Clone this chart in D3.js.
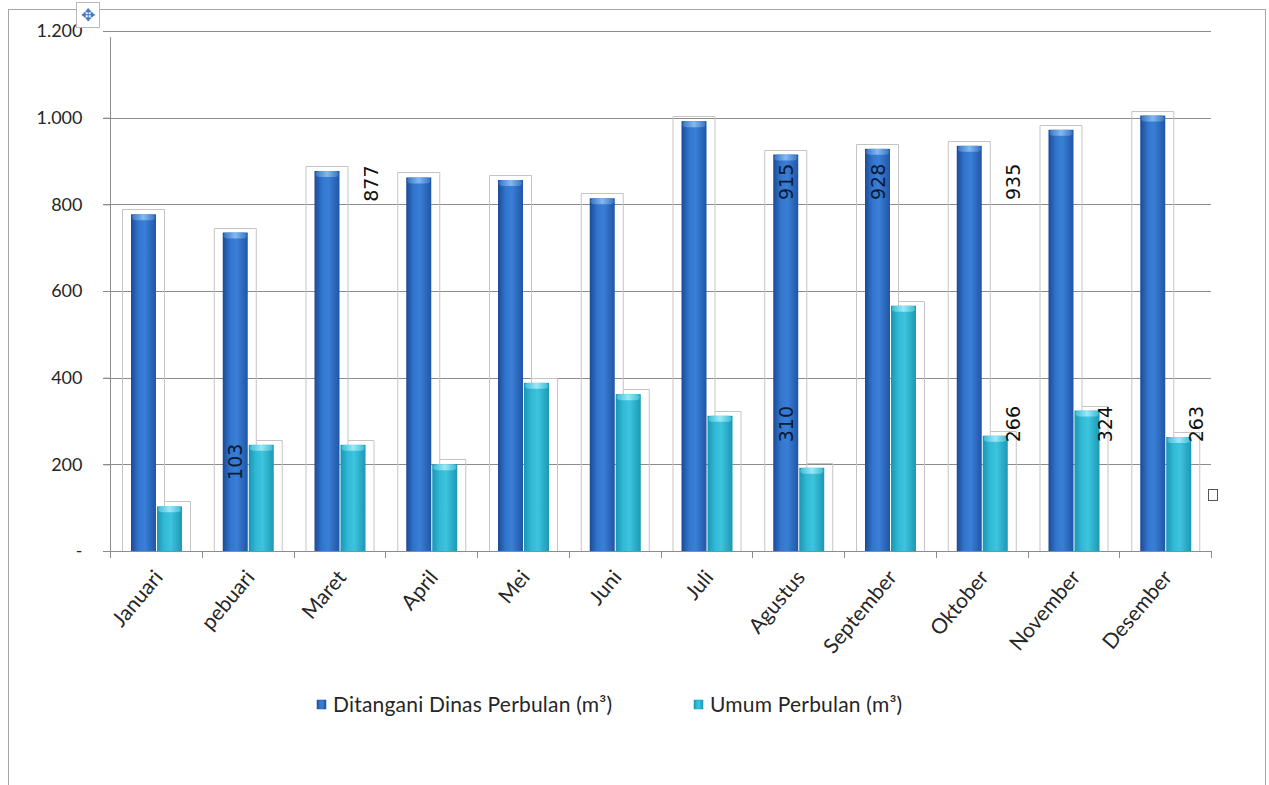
<!DOCTYPE html>
<html>
<head>
<meta charset="utf-8">
<script src="https://cdn.jsdelivr.net/npm/d3@7"></script>
<style>
  html, body { margin: 0; padding: 0; background: #fff; }
  svg { display: block; }
</style>
</head>
<body>
<svg id="chart" width="1269" height="785"></svg>
<script>
// ---------------- data ----------------
const months = ["Januari","pebuari","Maret","April","Mei","Juni","Juli","Agustus","September","Oktober","November","Desember"];
const seriesNames = ["Ditangani Dinas Perbulan (m³)", "Umum Perbulan (m³)"];
const dinasValues = [777, 735, 877, 862, 856, 814, 992, 915, 928, 935, 972, 1005];
const umumValues  = [103, 245, 245, 200, 388, 362, 312, 192, 566, 266, 324, 263];
const yTickValues = [0, 200, 400, 600, 800, 1000, 1200];
const yTickLabels = ["-", "200", "400", "600", "800", "1.000", "1.200"];
// data labels as they appear (misplaced) in the original
const labelTexts  = ["877", "103", "915", "928", "935", "310", "266", "324", "263"];
const labelMonths = ["Maret", "pebuari", "Agustus", "September", "Oktober", "Agustus", "Oktober", "November", "Desember"];
const labelSlots  = ["after", "dark", "dark", "dark", "after", "dark", "after", "after", "after"];
const labelLevels = [806, 164, 810, 810, 810, 251, 251, 251, 251];

// ---------------- layout ----------------
const svg = d3.select("#chart");
const plot = { left: 110, right: 1211, top: 31, bottom: 551 };
const FONT = "Lato, 'Open Sans', sans-serif";

const x = d3.scaleBand().domain(months).range([plot.left, plot.right]).padding(0);
const x1 = d3.scaleBand().domain(["dark", "light"]).range([21, 73]).padding(0);
const y = d3.scaleLinear().domain([0, 1200]).range([plot.bottom, plot.top]);
const bw = x1.bandwidth() - 1;

// gradients
const defs = svg.append("defs");
function hGrad(id, stops) {
  const g = defs.append("linearGradient").attr("id", id).attr("x1", "0%").attr("x2", "100%").attr("y1", "0%").attr("y2", "0%");
  stops.forEach(s => g.append("stop").attr("offset", s[0]).attr("stop-color", s[1]));
}
hGrad("gDark", [[0, "#1b4a96"], [0.3, "#3175cd"], [0.55, "#3a7fd7"], [1, "#2056a6"]]);
hGrad("gLight", [[0, "#1896b2"], [0.3, "#31bad6"], [0.55, "#3dc4de"], [1, "#1b98b4"]]);
hGrad("gDarkCap", [[0, "#3b78c8"], [0.5, "#8cc0f2"], [1, "#3b78c8"]]);
hGrad("gLightCap", [[0, "#40c0da"], [0.5, "#a5ecf8"], [1, "#40c0da"]]);

// outer frame
svg.append("rect").attr("x", 8.5).attr("y", 9.5).attr("width", 1257).attr("height", 800)
  .attr("fill", "none").attr("stroke", "#a6a6a6").attr("stroke-width", 1);

// gridlines
svg.append("g").selectAll("line").data(yTickValues.filter(v => v > 0)).join("line")
  .attr("x1", plot.left - 7).attr("x2", plot.right)
  .attr("y1", d => Math.round(y(d)) + 0.5).attr("y2", d => Math.round(y(d)) + 0.5)
  .attr("stroke", "#8c8c8c").attr("stroke-width", 1);

// y axis
const yAxis = d3.axisLeft(y).tickValues(yTickValues).tickSize(7)
  .tickFormat((d, i) => yTickLabels[i]);
const gy = svg.append("g").attr("transform", `translate(${plot.left + 0.5},0)`).call(yAxis);
gy.select(".domain").attr("stroke", "#8c8c8c").attr("d", `M0,${y(1200) + 6}V${plot.bottom}`);
gy.selectAll(".tick line").attr("stroke", "#8c8c8c");
gy.selectAll(".tick text").attr("x", -28).attr("fill", "#262626")
  .style("font-family", FONT).style("font-size", "18px");

// ghost outlines (faint rectangles around the bars in the original)
const ghosts = svg.append("g").attr("fill", "none").attr("stroke", "#c4c4c4").attr("stroke-width", 1);
months.forEach((m, i) => {
  const dx = x(m) + x1("dark");
  const lx = x(m) + x1("light");
  ghosts.append("path")
    .attr("d", `M${dx - 8.5},${plot.bottom}V${Math.round(y(dinasValues[i])) - 4.5}H${dx + bw + 8.5}V${plot.bottom}`);
  ghosts.append("path")
    .attr("d", `M${dx + bw + 8.5},${Math.round(y(umumValues[i])) - 4.5}H${lx + bw + 8.5}V${plot.bottom}`);
});

// bars
const barData = months.map((m, i) => [
  { month: m, key: "dark", value: dinasValues[i] },
  { month: m, key: "light", value: umumValues[i] }
]).flat();

const bars = svg.append("g");
bars.selectAll("rect.bar").data(barData).join("rect").attr("class", "bar")
  .attr("x", d => x(d.month) + x1(d.key))
  .attr("y", d => y(d.value))
  .attr("width", bw)
  .attr("height", d => plot.bottom - y(d.value))
  .attr("fill", d => d.key === "dark" ? "url(#gDark)" : "url(#gLight)");
bars.selectAll("rect.cap").data(barData).join("rect").attr("class", "cap")
  .attr("x", d => x(d.month) + x1(d.key) + 1)
  .attr("y", d => y(d.value))
  .attr("width", bw - 2)
  .attr("height", 6)
  .attr("rx", 4).attr("ry", 3)
  .attr("fill", d => d.key === "dark" ? "url(#gDarkCap)" : "url(#gLightCap)")
  .attr("opacity", 0.9);

// x axis
const xAxis = d3.axisBottom(x).tickSize(0).tickFormat("");
const gx = svg.append("g").attr("transform", `translate(0,${plot.bottom + 0.5})`).call(xAxis);
gx.select(".domain").attr("stroke", "#8c8c8c").attr("d", `M${plot.left - 7},0H${plot.right}`);
// category boundary ticks
const boundaries = months.map(m => x(m)).concat([plot.right]);
svg.append("g").selectAll("line").data(boundaries).join("line")
  .attr("x1", d => Math.round(d) + 0.5).attr("x2", d => Math.round(d) + 0.5)
  .attr("y1", plot.bottom).attr("y2", plot.bottom + 7)
  .attr("stroke", "#8c8c8c");

// month labels
svg.append("g").selectAll("text").data(months).join("text")
  .attr("transform", d => `translate(${x(d) + x.bandwidth() / 2 + 8},${plot.bottom + 27}) rotate(-50)`)
  .attr("text-anchor", "end")
  .attr("fill", "#262626")
  .style("font-family", FONT).style("font-size", "21px")
  .text(d => d);

// data labels
const labelData = labelTexts.map((t, i) => ({ text: t, month: labelMonths[i], slot: labelSlots[i], level: labelLevels[i] }));
svg.append("g").selectAll("text").data(labelData).join("text")
  .attr("transform", d => {
    const cx = d.slot === "dark"
      ? x(d.month) + x1("dark") + bw / 2
      : x(d.month) + x1("light") + bw + 5;
    return `translate(${cx},${y(d.level)}) rotate(-90)`;
  })
  .attr("text-anchor", "start")
  .attr("dominant-baseline", "central")
  .attr("fill", d => d.slot === "dark" ? "#0c1a33" : "#111")
  .style("font-family", "'DejaVu Sans', sans-serif").style("font-size", "19px")
  .text(d => d.text);

// legend
const legendX = [317, 694];
const legendText = [333, 710];
const lg = svg.append("g");
seriesNames.forEach((s, i) => {
  lg.append("rect").attr("x", legendX[i]).attr("y", 700).attr("width", 9).attr("height", 9)
    .attr("fill", i === 0 ? "url(#gDark)" : "url(#gLight)")
    .attr("stroke", i === 0 ? "#1d4f9e" : "#1a9ab6").attr("stroke-width", 0.5);
  lg.append("text").attr("x", legendText[i]).attr("y", 712)
    .attr("fill", "#262626")
    .style("font-family", FONT).style("font-size", "21px").style("letter-spacing", "0.2px")
    .text(s);
});

// chart-move handle (top left) and small square marker (right)
svg.append("rect").attr("x", 76.5).attr("y", 2.5).attr("width", 23).attr("height", 25)
  .attr("fill", "#fff").attr("stroke", "#b8b8b8");
svg.append("text").attr("x", 88).attr("y", 21).attr("text-anchor", "middle")
  .attr("fill", "#4a78c0").style("font-family", "'DejaVu Sans', sans-serif").style("font-size", "17px")
  .text("✥");
svg.append("rect").attr("x", 1208.5).attr("y", 489.5).attr("width", 9).attr("height", 11)
  .attr("fill", "#fff").attr("stroke", "#555");
</script>
</body>
</html>
